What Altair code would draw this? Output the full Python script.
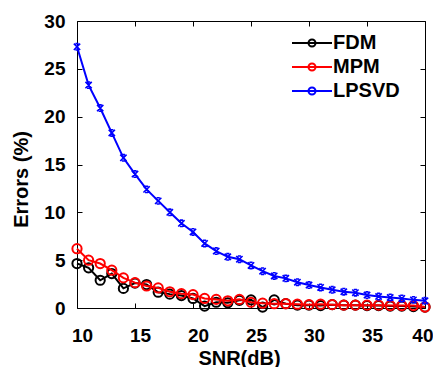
import altair as alt
import pandas as pd

snr = list(range(10, 41))
fdm = [4.65, 4.2, 2.9, 3.6, 2.05, 2.6, 2.45, 1.65, 1.45, 1.3, 1.0, 0.2, 0.6, 0.55, 0.8, 0.85,
       0.1, 0.85, 0.45, 0.3, 0.3, 0.25, 0.35, 0.3, 0.3, 0.25, 0.25, 0.2, 0.2, 0.15, 0.1]
mpm = [6.2, 5.0, 4.65, 3.95, 3.15, 2.65, 2.3, 2.1, 1.7, 1.5, 1.4, 1.0, 0.9, 0.75, 0.9, 0.6,
       0.5, 0.45, 0.45, 0.4, 0.35, 0.4, 0.35, 0.3, 0.3, 0.3, 0.3, 0.25, 0.25, 0.25, 0.1]
lpsvd = [27.3, 23.3, 20.9, 18.3, 15.7, 14.0, 12.4, 11.2, 10.0, 8.85, 7.95, 6.75, 5.95, 5.35,
         5.1, 4.45, 3.85, 3.35, 3.1, 2.7, 2.4, 2.15, 1.9, 1.7, 1.6, 1.35, 1.2, 1.1, 1.0, 0.85, 0.75]

series_names = ["FDM", "MPM", "LPSVD"]
series_colors = ["#000000", "#ff0000", "#0000ff"]
x_ticks = [10, 15, 20, 25, 30, 35, 40]
y_ticks = [0, 5, 10, 15, 20, 25, 30]

rows = []
for name, vals in zip(series_names, [fdm, mpm, lpsvd]):
    for s, v in zip(snr, vals):
        rows.append({"snr": s, "err": v, "series": name})
df = pd.DataFrame(rows)

FONT = "Liberation Sans"
LEG_PATH = "M-6,0H2M-1.3,0A0.7,0.7 0 1,1 -2.7,0A0.7,0.7 0 1,1 -1.3,0"
X_MARK = "M-1,-1L1,1M-1,1L1,-1M-0.5,-1H0.5M-0.5,1H0.5"

color_scale = alt.Scale(domain=series_names, range=series_colors)
xs = alt.Scale(domain=[10, 40], nice=False, zero=False)
ys = alt.Scale(domain=[0, 30], nice=False)

legend = alt.Legend(
    title=None, orient="none", legendX=235, legendY=12, padding=0,
    symbolType=LEG_PATH, symbolSize=100, symbolStrokeWidth=2,
    symbolFillColor="transparent",
    labelFont=FONT, labelFontSize=20, labelFontWeight="bold", labelColor="black",
    labelOffset=1, rowPadding=4,
)

last_tick = f"datum.value == {x_ticks[-1]}"
x_main = alt.Axis(values=x_ticks, title="SNR(dB)", format="d", offset=-5, tickSize=5,
                  domain=False, grid=False, labelPadding=18,
                  labelOffset={"condition": {"test": last_tick, "value": 8}, "value": 5},
                  labelAlign={"condition": {"test": last_tick, "value": "right"}, "value": "center"},
                  labelFlush=False, labelOverlap=False,
                  labelFont=FONT, labelFontSize=19, labelFontWeight="bold",
                  titleFont=FONT, titleFontSize=20, titleFontWeight="bold",
                  titleX=162, titleY=61, titleBaseline="alphabetic", titleAlign="center")
y_main = alt.Axis(values=y_ticks, title="Errors (%)", format="d", offset=-5, tickSize=5,
                  domain=False, grid=False, labelPadding=12,
                  labelFlush=False, labelOverlap=False,
                  labelFont=FONT, labelFontSize=19, labelFontWeight="bold",
                  titleFont=FONT, titleFontSize=20, titleFontWeight="bold",
                  titleX=-55, titleY=158, titleBaseline="alphabetic", titleAlign="center",
                  titleAngle=270)
x_top = alt.Axis(orient="top", values=x_ticks, labels=False, title=None, offset=-5,
                 tickSize=5, domain=False, grid=False)
y_right = alt.Axis(orient="right", values=y_ticks, labels=False, title=None, offset=-5,
                   tickSize=5, domain=False, grid=False)

base = alt.Chart(df)
layers = []
n = len(series_names)
for i, name in enumerate(series_names):
    sub = base.transform_filter(alt.datum.series == name)
    first = i == 0
    last = i == n - 1
    line = sub.mark_line(strokeWidth=2).encode(
        x=alt.X("snr:Q", scale=xs, axis=x_main if first else None),
        y=alt.Y("err:Q", scale=ys, axis=y_main if first else None),
        color=alt.Color("series:N", scale=color_scale, legend=legend),
    )
    if name == "LPSVD":
        pts = sub.mark_point(shape=X_MARK, size=40, strokeWidth=1.6, filled=False, opacity=1)
    else:
        pts = sub.mark_point(shape="circle", size=85, strokeWidth=2, filled=False, opacity=1)
    pts = pts.encode(
        x=alt.X("snr:Q", scale=xs, axis=x_top if last else None),
        y=alt.Y("err:Q", scale=ys, axis=y_right if last else None),
        color=alt.Color("series:N", scale=color_scale, legend=legend),
    )
    layers += [line, pts]

chart = alt.layer(*layers).resolve_axis(x="independent", y="independent").properties(
    width=348, height=287,
    autosize=alt.AutoSizeParams(type="none"),
    padding={"left": 69, "top": 13, "right": 8, "bottom": 59},
).configure_view(stroke="black", strokeWidth=1).configure_axis(
    tickColor="black", labelColor="black", titleColor="black", tickWidth=1
)

chart.save("out.html", embed_options={"renderer": "svg", "actions": False})
